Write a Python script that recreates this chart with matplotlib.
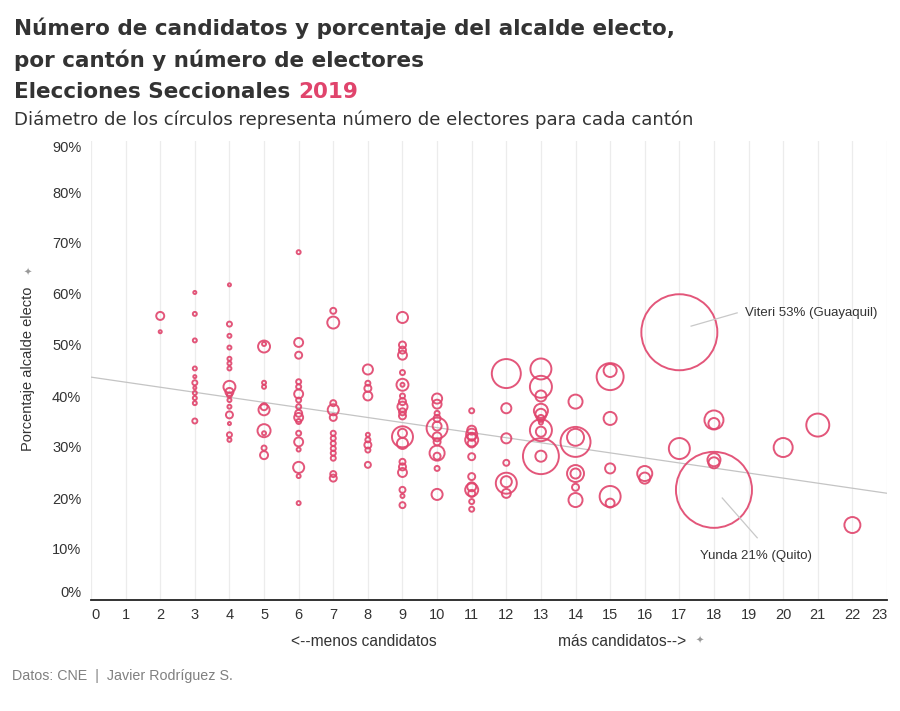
import numpy as np
import matplotlib
matplotlib.use("Agg")
import matplotlib.pyplot as plt

# --- Datos ---
candidatos = (
    [2, 2]
    + [3] * 11
    + [4] * 16
    + [5] * 10
    + [6] * 17
    + [7] * 13
    + [8] * 9
    + [9] * 21
    + [10] * 12
    + [11] * 13
    + [12] * 7
    + [13] * 11
    + [14] * 7
    + [15] * 6
    + [16] * 2
    + [17] * 2
    + [18] * 5
    + [20, 21, 22]
)

porcentaje = [
    55.7, 52.6,
    60.3, 56.1, 50.9, 45.4, 43.8, 42.6, 41.6, 40.6, 39.6, 38.6, 35.1,
    61.8, 54.1, 51.8, 49.5, 47.3, 46.4, 45.4, 41.8, 40.8, 40.2, 39.2, 37.9, 36.3, 34.6, 32.4, 31.4,
    50.2, 49.7, 42.6, 41.8, 37.9, 37.3, 33.2, 32.7, 29.8, 28.4,
    68.2, 50.5, 48.0, 42.8, 41.8, 40.4, 39.2, 37.9, 36.6, 35.8, 35.0, 32.7, 31.0, 29.5, 26.0, 24.3, 19.0,
    56.7, 54.4, 38.6, 37.3, 35.8, 32.7, 31.7, 30.7, 29.7, 28.8, 27.8, 24.7, 23.9,
    45.2, 42.5, 41.5, 40.0, 32.4, 31.4, 30.4, 29.4, 26.5,
    55.4, 50.0, 49.0, 48.0, 44.6, 42.2, 42.2, 40.0, 38.9, 37.9, 36.9, 36.1, 32.0, 32.7, 30.7, 27.1, 26.1, 25.0, 21.6, 20.4, 18.6,
    39.5, 38.4, 36.6, 35.6, 34.1, 33.7, 32.0, 31.0, 28.8, 28.2, 25.8, 20.7,
    37.1, 33.3, 32.5, 32.0, 31.4, 30.7, 28.1, 24.2, 22.2, 21.6, 20.9, 19.3, 17.8,
    44.4, 37.6, 31.7, 26.9, 22.9, 23.2, 20.9,
    45.3, 41.8, 40.0, 37.1, 36.4, 35.6, 34.8, 33.3, 33.0, 28.2, 28.2,
    38.9, 31.9, 31.0, 24.8, 24.8, 22.1, 19.6,
    45.0, 43.8, 35.6, 25.8, 20.3, 19.0,
    24.8, 23.9,
    52.5, 29.7,
    35.3, 34.6, 27.5, 26.9, 21.6,
    29.9, 34.3, 14.7,
]

# electores por cantón (miles), estimados por el diámetro
electores_miles = [
    12.7, 0.4,
    0.4, 1.4, 1.4, 1.4, 0.4, 3.2, 0.4, 1.4, 1.4, 1.4, 3.2,
    0.4, 3.2, 1.4, 1.4, 1.4, 1.4, 1.4, 35, 12.7, 3.2, 1.4, 1.4, 8.8, 0.4, 3.2, 1.4,
    1.4, 35, 1.4, 1.4, 8.8, 29, 43, 1.4, 3.2, 12.7,
    1.4, 17, 8.8, 3.2, 3.2, 17, 3.2, 3.2, 8.8, 17, 3.2, 3.2, 17, 1.4, 29, 1.4, 1.4,
    5.6, 35, 5.6, 29, 8.8, 3.2, 3.2, 3.2, 3.2, 3.2, 3.2, 5.6, 8.8,
    23, 3.2, 8.8, 17, 1.4, 3.2, 8.8, 3.2, 5.6,
    29, 8.8, 8.8, 17, 3.2, 35, 1.4, 3.2, 8.8, 23, 8.8, 8.8, 127, 17, 29, 5.6, 8.8, 17, 5.6, 1.4, 5.6,
    23, 17, 3.2, 8.8, 17, 127, 17, 8.8, 60, 8.8, 3.2, 29,
    3.2, 17, 29, 12.7, 43, 12.7, 8.8, 8.8, 17, 43, 8.8, 3.2, 3.2,
    257, 23, 23, 5.6, 127, 29, 17,
    127, 141, 29, 51, 29, 8.8, 1.4, 141, 23, 405, 29,
    51, 79, 276, 79, 23, 8.8, 51,
    43, 220, 43, 23, 127, 17,
    60, 29,
    1930, 127,
    102, 29, 43, 29, 1930,
    102, 155, 69,
]

y_ticks = [0, 10, 20, 30, 40, 50, 60, 70, 80, 90]
x_ticks = list(range(0, 24))

# línea de tendencia (aprox. del gráfico)
tendencia_intercepto = 43.7
tendencia_pendiente = -0.99

rosa = "#e0446c"
gris_texto = "#333333"
plt.rcParams['font.family'] = ['Liberation Sans', 'DejaVu Sans']

fig = plt.figure(figsize=(9, 7.11), dpi=100)
ax = fig.add_axes([91 / 900, 1 - 600 / 711, 796 / 900, 459 / 711])

# diámetro en px -> tamaño del marcador en pt^2
diam_px = 2 + 74 * np.sqrt(np.array(electores_miles) / 1930)
tam = (diam_px * 72 / 100) ** 2

ax.scatter(candidatos, porcentaje, s=tam, facecolors="none", edgecolors=rosa,
           linewidths=1.4, zorder=3, alpha=0.9)

xs = np.array([0, 23])
ax.plot(xs, tendencia_intercepto + tendencia_pendiente * xs, color="#c4c4c4", lw=0.9, zorder=2)

ax.set_xlim(0, 23)
ax.set_ylim(0, 90)
ax.set_xticks(x_ticks)
ax.set_yticks(y_ticks)
ax.set_yticklabels([f"{v}%" for v in y_ticks])
ax.tick_params(axis="both", length=0, labelsize=10.5, colors=gris_texto)
ax.tick_params(axis="x", pad=6)
ax.tick_params(axis="y", pad=7)
# primeras/últimas etiquetas hacia dentro
ylabs = ax.get_yticklabels()
ylabs[0].set_va("bottom")
ylabs[-1].set_va("top")
xlabs = ax.get_xticklabels()
xlabs[0].set_ha("left")
xlabs[-1].set_ha("right")

ax.grid(axis="x", color="#ececec", lw=0.9)
ax.grid(axis="y", visible=False)
ax.set_axisbelow(True)
for lado in ["top", "right", "left"]:
    ax.spines[lado].set_visible(False)
ax.spines["bottom"].set_color("#222222")
ax.spines["bottom"].set_linewidth(1.3)

# anotaciones
ax.plot([17.34, 18.67], [53.7, 56.3], color="#c8c8c8", lw=0.9, zorder=4)
ax.text(18.9, 56.3, "Viteri 53% (Guayaquil)", fontsize=9.5, color=gris_texto, va="center")
ax.plot([18.24, 19.25], [20.0, 12.2], color="#c8c8c8", lw=0.9, zorder=4)
ax.text(19.22, 8.6, "Yunda 21% (Quito)", fontsize=9.5, color=gris_texto, va="center", ha="center")

# títulos
fuente_titulo = ['DejaVu Sans']
fig.text(14 / 900, 1 - 28 / 711, "Número de candidatos y porcentaje del alcalde electo,",
         fontsize=15.5, fontweight="bold", color=gris_texto, va="center", family=fuente_titulo)
fig.text(14 / 900, 1 - 60 / 711, "por cantón y número de electores",
         fontsize=15.5, fontweight="bold", color=gris_texto, va="center", family=fuente_titulo)
t3 = fig.text(14 / 900, 1 - 92 / 711, "Elecciones Seccionales ",
              fontsize=15.5, fontweight="bold", color=gris_texto, va="center", family=fuente_titulo)
fig.canvas.draw()
bb = t3.get_window_extent()
fig.text(bb.x1 / 900, 1 - 92 / 711, "2019", fontsize=15.5, fontweight="bold", color=rosa,
         va="center", family=fuente_titulo)
fig.text(14 / 900, 1 - 120 / 711,
         "Diámetro de los círculos representa número de electores para cada cantón",
         fontsize=13.1, color=gris_texto, va="center", family=fuente_titulo)

# etiquetas de ejes
fig.text(28 / 900, 1 - 369 / 711, "Porcentaje alcalde electo", rotation=90,
         fontsize=10.5, color=gris_texto, ha="center", va="center")
fig.text(28 / 900, 1 - 273 / 711, "✦", fontsize=7, color="#999999", ha="center", va="center")
fig.text(364 / 900, 1 - 641 / 711, "<--menos candidatos", fontsize=11.2,
         color=gris_texto, ha="center", va="center")
fig.text(558 / 900, 1 - 641 / 711, "más candidatos-->", fontsize=11.2,
         color=gris_texto, ha="left", va="center")
fig.text(700 / 900, 1 - 641 / 711, "✦", fontsize=7, color="#999999", ha="center", va="center")

fig.text(12 / 900, 1 - 676 / 711, "Datos: CNE  |  Javier Rodríguez S.", fontsize=10.3,
         color="#808080", ha="left", va="center")

fig.savefig("out.png", dpi=100)
